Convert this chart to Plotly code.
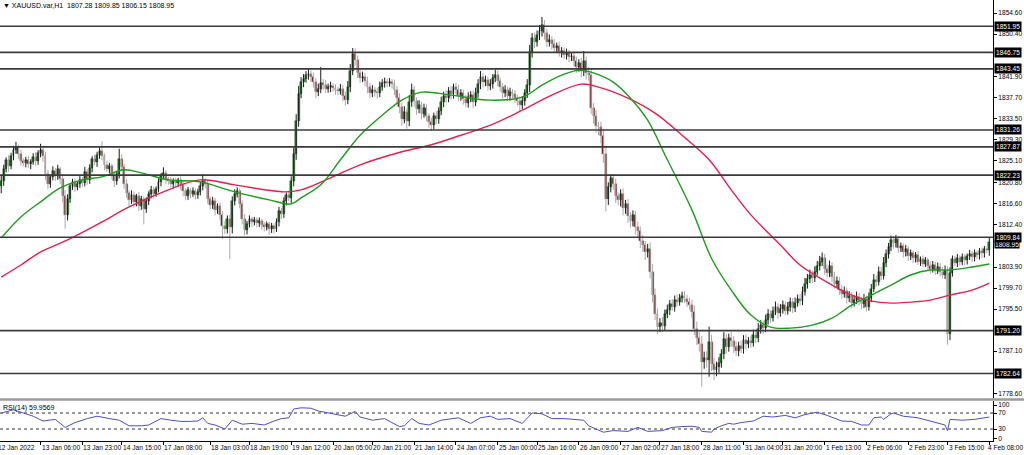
import numpy as np
import pandas as pd
import plotly.graph_objects as go

# ---------------- data ----------------
first_open = 1820.0
closes = [
    1821.0, 1823.5, 1825.2, 1824.0, 1826.0, 1827.2, 1827.8, 1826.5, 1825.0, 1824.6,
    1825.2, 1824.4, 1824.9, 1825.8, 1825.0, 1826.6, 1827.3, 1826.0, 1822.5, 1820.5,
    1821.8, 1823.0, 1822.0, 1823.4, 1821.5, 1818.0, 1814.2, 1817.5, 1820.0, 1820.8,
    1819.8, 1820.5, 1821.3, 1820.6, 1822.8, 1821.2, 1823.6, 1825.4, 1824.8, 1826.2,
    1827.0, 1826.0, 1824.2, 1823.5, 1824.0, 1822.2, 1821.0, 1822.5, 1825.5, 1823.8,
    1820.5, 1818.6, 1817.2, 1818.2, 1816.8, 1818.0, 1816.0, 1817.4, 1815.5, 1817.0,
    1818.4, 1819.2, 1818.5, 1819.5, 1820.8, 1822.0, 1822.6, 1821.4, 1821.0, 1820.4,
    1821.0, 1820.6, 1821.2, 1820.2, 1819.0, 1818.0, 1819.2, 1818.5, 1819.0, 1818.2,
    1818.8, 1820.0, 1821.0, 1820.5, 1817.5, 1816.2, 1817.0, 1815.3, 1816.0, 1814.2,
    1812.0, 1811.5, 1813.5, 1811.8, 1817.0, 1818.5, 1819.0, 1816.5, 1813.5, 1811.2,
    1812.5, 1813.4, 1812.8, 1813.2, 1812.6, 1813.0, 1812.2, 1811.8, 1812.4, 1811.4,
    1812.0, 1811.5, 1812.8, 1815.0, 1814.4, 1817.0, 1818.2, 1817.6, 1821.0, 1826.5,
    1833.0, 1838.5, 1840.8, 1841.5, 1842.2, 1842.4, 1841.8, 1840.8, 1838.9, 1839.4,
    1840.6, 1840.2, 1839.5, 1839.8, 1840.0, 1839.6, 1839.2, 1839.0, 1839.4, 1838.0,
    1837.3, 1839.8, 1843.0, 1846.4, 1845.2, 1842.6, 1841.6, 1841.9, 1841.0, 1839.8,
    1838.6, 1839.2, 1838.8, 1838.6, 1839.8, 1840.6, 1840.8, 1840.6, 1840.8, 1840.4,
    1839.2, 1837.6, 1835.8, 1833.5, 1834.8, 1833.0, 1836.8, 1839.2, 1837.0, 1835.5,
    1836.2, 1834.5, 1835.6, 1834.0, 1832.8, 1832.2, 1834.0, 1833.4, 1835.0, 1836.8,
    1838.0, 1837.6, 1839.0, 1838.4, 1839.8, 1839.2, 1838.0, 1838.6, 1837.4, 1836.6,
    1837.8, 1838.2, 1836.8, 1838.6, 1840.4, 1841.8, 1840.8, 1841.2, 1840.0, 1840.4,
    1841.6, 1842.2, 1841.0, 1839.8, 1838.6, 1839.2, 1838.0, 1838.8, 1838.4, 1837.6,
    1837.0, 1836.2, 1837.0, 1838.6, 1840.2, 1846.8, 1849.6, 1848.8, 1850.2, 1851.0,
    1852.2, 1850.6, 1848.8, 1849.2, 1848.4, 1847.6, 1848.0, 1846.8, 1847.0, 1846.2,
    1846.6, 1845.8, 1846.0, 1845.0, 1843.8, 1844.6, 1843.0, 1845.0, 1842.6, 1842.2,
    1835.6, 1834.0, 1832.0, 1831.8, 1830.0, 1826.5, 1817.5, 1819.8, 1821.6, 1820.4,
    1818.0, 1817.2, 1818.4, 1815.6, 1816.4, 1814.0, 1813.0, 1814.2, 1811.8, 1811.0,
    1809.0, 1808.2, 1806.8, 1807.4, 1803.0, 1798.4, 1794.6, 1792.0, 1792.8, 1792.2,
    1794.6, 1795.4, 1796.6, 1796.0, 1797.4, 1797.0, 1797.8, 1798.2, 1797.6, 1797.0,
    1796.4, 1795.0, 1791.6, 1789.8, 1788.6, 1785.0, 1785.8, 1785.4, 1789.0, 1784.6,
    1783.4, 1784.0, 1784.8, 1786.6, 1789.6, 1788.0, 1789.8, 1789.2, 1788.0, 1787.2,
    1788.2, 1787.6, 1789.4, 1788.6, 1789.2, 1788.8, 1790.4, 1789.8, 1791.6, 1792.4,
    1791.8, 1793.4, 1794.6, 1793.8, 1795.2, 1796.0, 1794.8, 1795.6, 1796.4, 1795.2,
    1796.0, 1797.0, 1795.8, 1796.8, 1797.6, 1797.2, 1799.0, 1800.6, 1801.6, 1802.4,
    1801.8, 1803.0, 1804.2, 1805.0, 1805.6, 1803.6, 1802.8, 1804.2, 1802.0, 1800.6,
    1801.2, 1799.4, 1798.6, 1799.2, 1797.8, 1798.2, 1796.8, 1797.4, 1798.0, 1797.2,
    1796.6, 1797.6, 1796.0, 1797.8, 1799.6, 1801.4, 1801.0, 1803.0, 1802.2, 1804.8,
    1806.4, 1807.8, 1809.2, 1808.6, 1809.4, 1807.6, 1808.0, 1806.8, 1807.4, 1806.0,
    1806.6, 1805.6, 1806.2, 1805.0, 1805.4, 1804.6, 1805.2, 1804.2, 1803.6, 1804.4,
    1803.2, 1804.0, 1803.0, 1802.4, 1803.4, 1790.5, 1802.8, 1805.4, 1804.8, 1805.6,
    1805.0, 1805.8, 1805.2, 1806.0, 1806.4, 1805.8, 1806.6, 1806.2, 1807.0, 1806.6,
    1807.4, 1807.28, 1808.95,
]
wick_up = [
    1.2, 0.8, 0.6, 1.0, 0.7, 0.9, 1.1, 0.5, 0.8, 0.6,
    0.7, 0.9, 0.5, 0.8, 1.0, 0.6, 1.2, 0.7, 0.9, 0.8,
    0.6, 1.0, 0.7, 0.9, 0.5, 0.8, 1.3, 0.9, 0.6, 0.7,
    0.8, 0.5, 0.9, 0.6, 1.1, 0.7, 0.8, 0.6, 0.9, 0.7,
    0.8, 2.0, 0.6, 0.9, 0.7, 0.5, 0.8, 0.6, 2.0, 0.9,
    0.7, 0.9, 0.6, 1.0, 0.8, 0.5, 0.9, 0.7, 0.6, 0.8,
    0.6, 0.9, 0.7, 0.5, 0.8, 0.6, 1.2, 0.7, 0.5, 0.8,
    0.6, 0.7, 0.5, 0.8, 0.9, 0.6, 0.7, 0.5, 0.8, 0.6,
    0.7, 0.9, 1.4, 0.6, 0.8, 0.5, 0.9, 0.7, 0.6, 0.8,
    0.9, 1.1, 0.7, 0.8, 1.0, 0.9, 0.8, 0.6, 0.7, 0.9,
    0.6, 0.8, 0.5, 0.7, 0.6, 0.8, 0.5, 0.7, 0.6, 0.5,
    0.7, 0.6, 0.8, 0.9, 0.7, 0.8, 0.6, 0.9, 1.0, 1.2,
    1.4, 1.5, 1.0, 0.9, 0.8, 1.0, 0.7, 0.9, 0.8, 1.1,
    3.2, 0.8, 1.0, 0.7, 0.9, 0.6, 0.8, 0.7, 1.0, 0.8,
    0.9, 1.2, 1.4, 1.2, 1.1, 0.9, 0.8, 1.0, 0.7, 0.9,
    0.8, 1.0, 0.7, 0.9, 1.1, 0.8, 0.9, 0.7, 0.8, 0.6,
    0.9, 0.8, 1.0, 0.9, 1.2, 0.8, 1.4, 1.3, 0.9, 0.8,
    1.0, 0.7, 0.9, 0.8, 0.6, 0.9, 0.7, 1.0, 0.8, 1.1,
    0.9, 1.2, 0.8, 1.0, 0.7, 0.9, 1.1, 0.8, 0.7, 0.9,
    1.0, 0.8, 0.9, 1.1, 1.0, 1.2, 0.8, 0.9, 0.7, 1.0,
    0.8, 1.1, 0.9, 0.7, 0.8, 1.0, 0.7, 0.9, 0.6, 0.8,
    0.7, 0.9, 1.0, 0.8, 1.2, 1.4, 1.0, 1.1, 0.9, 1.2,
    1.6, 1.0, 0.9, 1.1, 0.8, 1.0, 0.7, 0.9, 0.8, 0.7,
    0.9, 0.6, 0.8, 0.7, 0.9, 0.8, 1.0, 2.0, 0.9, 1.2,
    1.4, 1.0, 1.2, 0.9, 1.1, 1.5, 1.6, 1.0, 0.8, 0.9,
    1.1, 0.8, 1.0, 1.2, 0.9, 1.1, 0.8, 1.0, 0.9, 1.2,
    1.0, 1.3, 0.9, 1.1, 1.4, 1.5, 1.2, 1.0, 0.9, 1.1,
    0.8, 1.0, 0.7, 0.9, 0.8, 1.0, 0.7, 0.8, 0.9, 0.7,
    0.8, 1.0, 1.2, 1.4, 1.1, 1.5, 1.2, 1.3, 3.0, 1.4,
    1.2, 1.0, 1.1, 0.9, 1.3, 1.0, 0.8, 1.1, 0.9, 1.0,
    0.8, 1.0, 0.9, 1.1, 0.7, 0.9, 1.0, 0.8, 1.1, 0.9,
    0.8, 1.0, 0.9, 0.7, 0.8, 1.0, 0.7, 0.9, 0.8, 0.6,
    0.9, 0.8, 0.7, 1.0, 0.8, 0.9, 1.0, 1.1, 0.9, 1.0,
    0.8, 1.0, 0.9, 1.1, 1.2, 0.9, 0.8, 1.0, 0.7, 0.9,
    0.8, 0.7, 0.9, 0.8, 0.6, 0.9, 0.7, 0.8, 1.0, 0.7,
    0.8, 0.9, 0.6, 1.0, 0.9, 1.1, 0.8, 1.0, 0.9, 1.1,
    1.0, 0.9, 1.0, 0.8, 0.9, 0.7, 0.8, 0.6, 0.9, 0.7,
    0.8, 0.6, 0.7, 0.9, 0.6, 0.8, 0.7, 0.6, 0.8, 0.7,
    0.6, 0.8, 0.7, 0.9, 0.8, 0.6, 1.0, 0.8, 0.7, 0.9,
    0.6, 0.8, 0.7, 0.6, 0.9, 0.7, 0.8, 0.6, 0.7, 0.8,
    0.7, 0.6, 0.9,
]
wick_dn = [
    1.4, 0.9, 0.7, 1.1, 0.6, 0.8, 0.7, 1.0, 0.9, 0.6,
    0.8, 0.7, 1.0, 0.6, 0.9, 0.7, 0.8, 1.1, 1.3, 1.0,
    0.8, 0.6, 0.9, 0.7, 1.0, 1.2, 2.7, 1.0, 0.8, 0.7,
    0.9, 0.6, 0.8, 0.7, 0.6, 0.9, 0.7, 0.8, 0.6, 0.9,
    0.7, 0.8, 1.0, 0.6, 0.9, 0.8, 1.1, 0.7, 0.9, 0.8,
    1.0, 0.9, 1.2, 0.7, 1.0, 0.8, 0.9, 0.7, 3.1, 0.8,
    0.7, 0.8, 0.9, 0.6, 0.7, 0.8, 0.6, 0.9, 0.7, 0.6,
    0.8, 0.7, 0.6, 0.9, 1.0, 0.8, 0.7, 0.9, 0.6, 0.8,
    0.7, 0.6, 0.8, 0.9, 1.0, 0.8, 0.7, 1.1, 0.8, 0.9,
    2.5, 1.0, 0.9, 6.3, 1.2, 0.8, 0.7, 0.9, 1.1, 1.0,
    0.8, 0.7, 0.9, 0.6, 0.8, 0.7, 0.9, 0.8, 0.6, 1.0,
    0.7, 0.9, 0.6, 0.8, 0.9, 0.7, 0.8, 0.6, 0.9, 1.0,
    1.2, 1.1, 0.9, 1.0, 0.8, 0.9, 1.0, 1.1, 1.3, 0.9,
    0.8, 1.0, 0.9, 0.8, 1.0, 0.7, 0.9, 0.8, 0.7, 1.0,
    1.2, 0.9, 1.0, 0.8, 1.1, 1.0, 0.9, 0.8, 1.0, 1.2,
    1.0, 0.8, 0.9, 1.1, 0.8, 0.7, 0.9, 0.8, 0.7, 0.9,
    1.0, 1.1, 1.2, 1.4, 0.9, 1.5, 1.0, 0.9, 1.1, 1.2,
    0.9, 1.1, 0.8, 1.0, 1.1, 1.2, 0.8, 1.0, 0.9, 0.8,
    1.0, 0.9, 0.8, 1.1, 0.9, 0.8, 1.0, 0.9, 1.1, 0.8,
    0.9, 1.0, 1.2, 0.8, 0.9, 1.0, 1.1, 0.8, 0.9, 0.8,
    0.9, 0.8, 1.0, 0.9, 1.1, 0.8, 1.0, 0.9, 0.8, 1.0,
    0.9, 1.2, 0.8, 0.9, 1.0, 1.4, 1.1, 1.2, 0.9, 1.0,
    1.1, 1.3, 1.0, 0.9, 1.1, 0.8, 1.0, 0.9, 1.1, 0.8,
    0.9, 1.0, 0.8, 1.0, 1.1, 0.9, 1.2, 1.0, 1.3, 1.1,
    1.2, 1.5, 1.3, 1.6, 1.4, 1.8, 2.5, 1.2, 1.0, 1.1,
    1.3, 1.0, 1.2, 1.4, 1.1, 1.3, 1.2, 1.0, 1.4, 1.1,
    1.3, 1.2, 1.5, 1.0, 1.4, 1.6, 1.3, 1.5, 1.1, 1.2,
    1.0, 0.9, 1.1, 0.8, 1.0, 0.9, 0.8, 1.0, 0.9, 1.1,
    1.0, 1.2, 1.3, 1.5, 1.6, 5.0, 1.4, 1.6, 3.4, 1.5,
    2.1, 1.3, 1.2, 1.0, 1.1, 1.4, 1.0, 1.2, 1.3, 1.0,
    1.1, 0.9, 1.0, 1.2, 0.9, 1.0, 0.8, 1.1, 0.9, 1.0,
    1.2, 0.9, 1.0, 1.1, 0.8, 0.9, 1.2, 0.8, 1.0, 0.9,
    0.8, 1.0, 1.1, 0.9, 0.8, 1.0, 0.9, 0.8, 1.0, 0.9,
    1.1, 0.9, 0.8, 1.0, 0.9, 1.2, 1.0, 0.9, 1.1, 1.0,
    0.9, 1.1, 1.0, 0.8, 1.2, 0.9, 1.1, 0.8, 0.9, 1.0,
    1.1, 0.9, 1.0, 0.8, 0.9, 0.7, 1.0, 0.8, 0.9, 0.8,
    0.9, 0.8, 0.7, 1.0, 0.8, 0.9, 0.7, 1.0, 0.8, 0.9,
    0.7, 0.9, 0.8, 0.7, 0.9, 0.8, 0.7, 0.9, 1.0, 0.8,
    0.9, 0.7, 1.0, 0.8, 0.9, 2.1, 1.2, 0.8, 0.7, 0.9,
    0.8, 0.7, 0.9, 0.8, 0.7, 0.9, 0.8, 0.7, 0.8, 0.9,
    0.8, 0.7, 1.13,
]

# moving averages (at selected bars)
ma_green_bar = [0, 8, 16, 24, 33, 41, 50, 57, 68, 81, 95, 109, 118, 122, 130, 138, 146, 155,
                163, 171, 183, 199, 212, 220, 228, 235, 240, 249, 256, 263, 271, 281, 289,
                297, 305, 313, 321, 330, 338, 346, 354, 362, 370, 378, 386, 395, 402]
ma_green_val = [1809.7, 1813.9, 1816.9, 1819.7, 1821.3, 1821.9, 1823.3, 1822.7, 1821.3, 1820.9,
                1818.9, 1817.3, 1816.5, 1817.7, 1820.3, 1825.3, 1830.2, 1834.2, 1837.2, 1838.8,
                1838.2, 1837.2, 1837.8, 1840.2, 1842.2, 1843.2, 1842.8, 1840.8, 1837.6, 1833.2,
                1825.3, 1815.3, 1805.6, 1799.3, 1794.3, 1791.9, 1791.7, 1792.3, 1793.7, 1796.3,
                1798.3, 1800.3, 1802.3, 1803.3, 1803.3, 1803.9, 1804.5]
ma_red_bar = [0, 8, 16, 27, 41, 52, 68, 81, 95, 115, 122, 134, 146, 163, 175, 187, 199, 212,
              224, 236, 243, 255, 266, 277, 288, 297, 305, 317, 325, 338, 346, 354, 362, 370,
              378, 386, 395, 402]
ma_red_val = [1801.9, 1804.3, 1806.9, 1809.3, 1812.9, 1815.9, 1819.3, 1821.3, 1820.3, 1818.9,
              1819.3, 1821.7, 1824.3, 1826.9, 1828.3, 1830.2, 1832.2, 1835.2, 1838.2, 1840.4,
              1839.8, 1837.6, 1834.6, 1830.2, 1825.3, 1819.3, 1814.3, 1808.3, 1804.3, 1800.3,
              1798.3, 1797.1, 1796.7, 1796.9, 1797.3, 1798.3, 1799.3, 1800.7]

# RSI(14)
rsi_bar = [0, 5, 9, 13, 17, 22, 26, 30, 35, 39, 44, 48, 52, 57, 60, 65, 69, 73, 77, 80, 82, 84,
           87, 91, 94, 98, 102, 107, 111, 114, 117, 119, 122, 126, 129, 133, 137, 140, 144, 146,
           151, 156, 162, 164, 167, 170, 174, 179, 186, 191, 195, 199, 202, 207, 212, 216, 220,
           224, 229, 233, 237, 239, 243, 245, 249, 255, 259, 263, 269, 273, 277, 281, 284, 285,
           289, 290, 293, 296, 298, 301, 306, 310, 314, 319, 323, 327, 332, 336, 342, 346, 350,
           353, 355, 358, 359, 362, 363, 367, 373, 377, 381, 384, 385, 386, 391, 396, 402]
rsi_val = [70, 78, 70, 62, 50, 54, 34, 46, 56, 62, 56, 52, 38, 38, 40, 56, 52, 49, 49, 50, 58, 44,
           40, 30, 52, 42, 44, 40, 50, 56, 58, 80, 83, 82, 75, 70, 66, 62, 74, 60,
           52, 56, 36, 38, 56, 44, 40, 52, 58, 44, 58, 62, 54, 56, 44, 70, 68,
           56, 56, 54, 52, 38, 28, 22, 26, 24, 34, 24, 26, 34, 36, 37, 34, 24,
           22, 30, 38, 44, 42, 46, 50, 62, 60, 64, 58, 66, 72, 64, 50, 49, 40,
           40, 58, 60, 54, 68, 70, 62, 58, 52, 46, 40, 26, 54, 52, 54, 59.96]

levels = [1851.95, 1846.75, 1843.45, 1831.26, 1827.87, 1822.23, 1809.84, 1791.20, 1782.64]
level_text = ["1851.95", "1846.75", "1843.45", "1831.26", "1827.87", "1822.23", "1809.84",
              "1791.20", "1782.64"]
bid_price = 1808.95
bid_text = "1808.95"
price_ticks = [1854.60, 1850.40, 1841.90, 1837.70, 1833.50, 1829.30, 1825.10, 1820.80,
               1816.60, 1812.40, 1803.90, 1799.70, 1795.50, 1787.10, 1778.60]
time_labels = ["13 Jan 06:00", "13 Jan 23:00", "14 Jan 15:00", "17 Jan 08:00", "18 Jan 03:00",
               "18 Jan 19:00", "19 Jan 12:00", "20 Jan 05:00", "20 Jan 21:00", "21 Jan 14:00",
               "24 Jan 07:00", "25 Jan 00:00", "25 Jan 16:00", "26 Jan 09:00", "27 Jan 02:00",
               "27 Jan 18:00", "28 Jan 11:00", "31 Jan 04:00", "31 Jan 20:00", "1 Feb 13:00",
               "2 Feb 06:00", "2 Feb 23:00", "3 Feb 15:00", "4 Feb 08:00"]
first_label = "12 Jan 2022"
title_text = "XAUUSD.var,H1  1807.28 1809.85 1806.15 1808.95"
rsi_text = "RSI(14) 59.9569"

# ---------------- build ----------------
bars = pd.date_range("2022-01-12 14:00", "2022-02-04 08:00", freq="h")
bars = bars[bars.dayofweek < 5]
n = len(bars)
xi = np.arange(n)
c = np.array(closes[:n])
o = np.concatenate([[first_open], c[:-1]])
h = np.maximum(o, c) + np.array(wick_up[:n])
l = np.minimum(o, c) - np.array(wick_dn[:n])
up = c >= o

label_idx = [bars.get_loc(pd.to_datetime(s + " 2022", format="%d %b %H:%M %Y")) for s in time_labels]

FONT = "Liberation Sans, Arial, sans-serif"
AX_FS = 6.6
W, H = 1024, 455
ML, MR, MT, MB = 0, 31, 0, 14
ph = H - MT - MB
main_dom = [(ph - 398) / ph, 1.0]
rsi_dom = [0.0, (ph - 401) / ph]
ymin = 1854.6 - 385 * 0.1996
ymax = 1854.6 + 13 * 0.1996

UP_BODY, DN_BODY = "#1f9a1f", "#6e0f0f"
UP_WICK, DN_WICK = "#1a1a1a", "#a9a9a9"


def wick_xy(mask):
    xs, ys = [], []
    for i in np.where(mask)[0]:
        xs += [i, i, None]
        ys += [l[i], h[i], None]
    return xs, ys


fig = go.Figure()
xs, ys = wick_xy(~up)
fig.add_trace(go.Scatter(x=xs, y=ys, mode="lines", line=dict(color=DN_WICK, width=1),
                         showlegend=False, hoverinfo="skip", xaxis="x", yaxis="y"))
xs, ys = wick_xy(up)
fig.add_trace(go.Scatter(x=xs, y=ys, mode="lines", line=dict(color=UP_WICK, width=1),
                         showlegend=False, hoverinfo="skip", xaxis="x", yaxis="y"))
body_base = np.minimum(o, c)
body_len = np.maximum(np.abs(c - o), 0.2)
fig.add_trace(go.Bar(x=xi, y=body_len, base=body_base, width=0.78,
                     marker=dict(color=[UP_BODY if u else DN_BODY for u in up],
                                 line=dict(color=[UP_WICK if u else "#8a8a8a" for u in up], width=0.4)),
                     showlegend=False, xaxis="x", yaxis="y"))
fig.add_trace(go.Scatter(x=ma_red_bar, y=ma_red_val, mode="lines",
                         line=dict(color="#e51f4e", width=1.4, shape="spline", smoothing=1.0),
                         showlegend=False, xaxis="x", yaxis="y"))
fig.add_trace(go.Scatter(x=ma_green_bar, y=ma_green_val, mode="lines",
                         line=dict(color="#1e9a1e", width=1.4, shape="spline", smoothing=1.0),
                         showlegend=False, xaxis="x", yaxis="y"))
fig.add_trace(go.Scatter(x=rsi_bar, y=rsi_val, mode="lines",
                         line=dict(color="#4e4ec8", width=1),
                         showlegend=False, xaxis="x2", yaxis="y2"))

shapes = []
for lv in levels:
    shapes.append(dict(type="line", xref="paper", x0=0, x1=1, yref="y", y0=lv, y1=lv,
                       line=dict(color="#3a3a3a", width=1.6), layer="above"))
for rv in (70, 30):
    shapes.append(dict(type="line", xref="paper", x0=0, x1=1, yref="y2", y0=rv, y1=rv,
                       line=dict(color="#333333", width=1, dash="dot"), layer="below"))
sep_y = (ph - 399.5) / ph
shapes.append(dict(type="line", xref="paper", x0=0, x1=W / (W - MR), yref="paper", y0=sep_y, y1=sep_y,
                   line=dict(color="#9a9a9a", width=2.5)))

ann = []
# bid price box drawn first and nudged down so both it and the 1809.84 box stay legible
ann.append(dict(xref="paper", x=1, xanchor="left", xshift=1, yref="y", y=bid_price, yanchor="middle",
                yshift=-3, text=bid_text, showarrow=False, bgcolor="#000000", borderpad=0,
                font=dict(family=FONT, size=AX_FS, color="#ffffff")))
for lv, tx in zip(levels, level_text):
    ann.append(dict(xref="paper", x=1, xanchor="left", xshift=1, yref="y", y=lv, yanchor="middle",
                    text=tx, showarrow=False, bgcolor="#000000", borderpad=1,
                    font=dict(family=FONT, size=AX_FS, color="#ffffff")))
for s, ix in zip(time_labels, label_idx):
    shift = -3 if ix == n - 1 else -1
    ann.append(dict(xref="x2", x=ix, xanchor="left", xshift=shift, yref="paper", y=0, yanchor="top",
                    yshift=-1, text=s, showarrow=False,
                    font=dict(family=FONT, size=AX_FS, color="#000000")))
ann.append(dict(xref="paper", x=0, xanchor="left", xshift=-4, yref="paper", y=0, yanchor="top",
                yshift=-1, text=first_label, showarrow=False,
                font=dict(family=FONT, size=AX_FS, color="#000000")))
ann.append(dict(xref="paper", x=0, xanchor="left", xshift=1, yref="paper", y=1, yanchor="top",
                text="\u25BC " + title_text, showarrow=False,
                font=dict(family=FONT, size=7, color="#000000")))
ann.append(dict(xref="paper", x=0, xanchor="left", xshift=1, yref="paper", y=rsi_dom[1], yanchor="top",
                yshift=-1, text=rsi_text, showarrow=False,
                font=dict(family=FONT, size=7, color="#000000")))

fig.update_layout(
    width=W, height=H, margin=dict(l=ML, r=MR, t=MT, b=MB),
    paper_bgcolor="#ffffff", plot_bgcolor="#ffffff",
    font=dict(family=FONT, size=7, color="#000000"),
    barmode="overlay", bargap=0,
    xaxis=dict(domain=[0, 1], range=[-0.5, n + 0.5], showticklabels=False, showgrid=False,
               zeroline=False, anchor="y", matches="x2"),
    yaxis=dict(domain=main_dom, range=[ymin, ymax], side="right", showgrid=False, zeroline=False,
               tickvals=price_ticks, ticktext=["%.2f" % v for v in price_ticks],
               ticks="outside", ticklen=3, tickcolor="#000000", showline=True,
               linecolor="#000000", linewidth=1, tickfont=dict(family=FONT, size=AX_FS), anchor="x"),
    xaxis2=dict(domain=[0, 1], range=[-0.5, n + 0.5], showticklabels=False, showgrid=False,
                zeroline=False, tickvals=label_idx, ticks="outside", ticklen=3, tickcolor="#000000",
                showline=True, linecolor="#000000", linewidth=1, anchor="y2"),
    yaxis2=dict(domain=rsi_dom, range=[0, 100], side="right", showgrid=False, zeroline=False,
                tickvals=[90, 70, 30, 7], ticktext=["100", "70", "30", "0"], ticks="outside",
                ticklen=3, tickcolor="#000000", showline=True, linecolor="#000000", linewidth=1,
                tickfont=dict(family=FONT, size=AX_FS), anchor="x2"),
    shapes=shapes, annotations=ann,
)

fig.write_html("out.html", config={"displayModeBar": False},
               post_script="document.body.style.margin='0';document.body.style.overflow='hidden';")
